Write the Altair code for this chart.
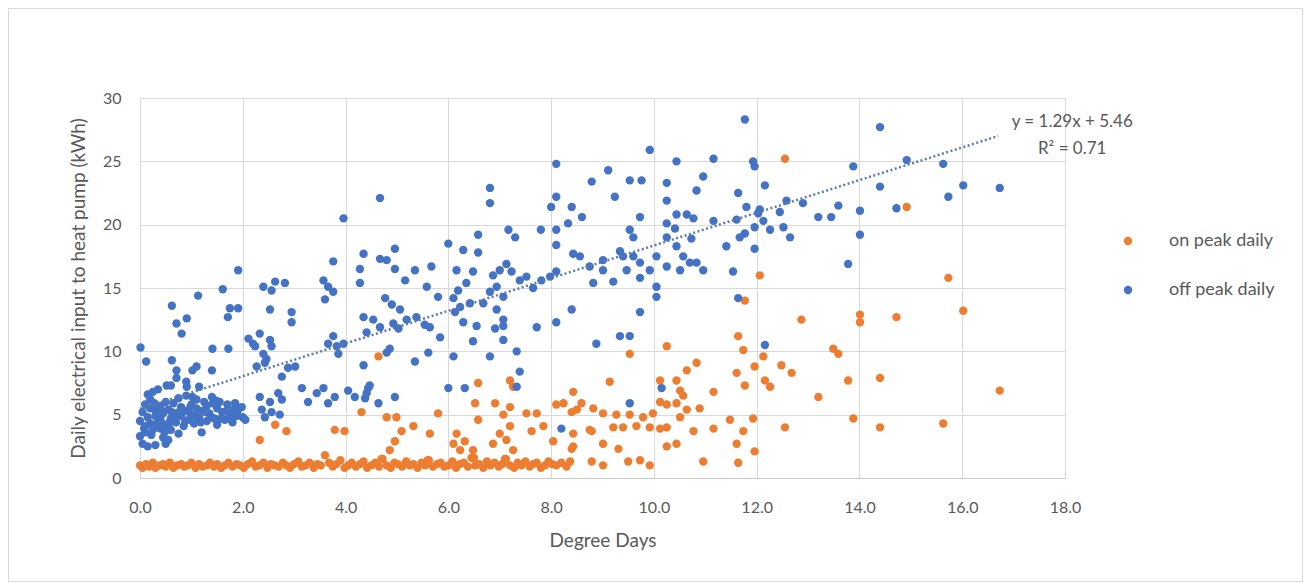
import altair as alt
import pandas as pd

# ---------------- data ----------------
# on peak daily: dense band near 1 kWh
band_x = [0.00, 0.05, 0.12, 0.18, 0.25, 0.30, 0.38, 0.45, 0.50, 0.58,
          0.65, 0.72, 0.80, 0.86, 0.93, 1.00, 1.08, 1.15, 1.22, 1.30,
          1.36, 1.44, 1.50, 1.58, 1.65, 1.72, 1.80, 1.88, 1.95, 2.02,
          2.10, 2.18, 2.25, 2.32, 2.40, 2.48, 2.55, 2.62, 2.70, 2.78,
          2.85, 2.92, 3.00, 3.08, 3.15, 3.22, 3.30, 3.38, 3.45, 3.52,
          3.60, 3.68, 3.75, 3.82, 3.90, 3.98, 4.05, 4.12, 4.20, 4.28,
          4.35, 4.42, 4.50, 4.58, 4.65, 4.72, 4.80, 4.88, 4.95, 5.02,
          5.10, 5.18, 5.25, 5.32, 5.40, 5.48, 5.55, 5.62, 5.70, 5.78,
          5.85, 5.92, 6.00, 6.08, 6.15, 6.22, 6.30, 6.38, 6.45, 6.52,
          6.60, 6.68, 6.75, 6.82, 6.90, 6.98, 7.05, 7.12, 7.20, 7.28,
          7.35, 7.42, 7.50, 7.58, 7.65, 7.72, 7.80, 7.88, 7.95, 8.02,
          8.10, 8.20, 8.30, 6.50, 7.10, 4.70, 5.60]
band_y = [1.0, 0.8, 1.1, 0.9, 1.2, 0.8, 1.0, 1.1, 0.9, 1.2,
          0.8, 1.0, 1.1, 0.9, 1.0, 1.2, 0.8, 1.1, 0.9, 1.0,
          1.2, 0.9, 1.1, 0.8, 1.0, 1.2, 0.9, 1.1, 1.0, 0.8,
          1.1, 1.3, 0.9, 1.0, 1.2, 0.8, 1.1, 1.0, 0.9, 1.2,
          1.0, 0.8, 1.1, 1.3, 0.9, 1.0, 1.2, 0.8, 1.1, 1.0,
          1.8, 1.2, 0.9, 1.1, 1.4, 0.8, 1.0, 1.2, 0.9, 1.1,
          1.3, 0.8, 1.0, 1.2, 0.9, 1.5, 1.0, 0.8, 1.2, 1.1,
          0.9, 1.3, 1.0, 1.1, 0.8, 1.2, 1.0, 1.4, 0.9, 1.1,
          1.2, 0.9, 1.0, 1.3, 0.8, 1.1, 1.2, 0.9, 1.6, 1.0,
          1.1, 0.8, 1.3, 1.0, 1.2, 0.9, 1.1, 1.5, 1.0, 0.8,
          1.2, 1.0, 1.3, 0.9, 1.1, 1.2, 0.8, 1.0, 1.3, 1.1,
          1.0, 1.2, 0.9, 1.6, 1.5, 1.5, 1.4]

# on peak daily: scattered points
on_x = [2.33, 2.63, 2.85, 3.79, 3.98, 4.31,
        4.64, 6.58, 7.20, 7.26, 8.43, 8.59, 8.24, 8.75, 8.82,
        6.52, 6.91, 7.20, 5.80, 6.58, 7.07, 7.52, 7.72, 8.10, 8.40,
        7.85, 7.62, 7.20, 7.00, 8.04, 8.40, 6.16, 6.32, 6.10, 6.23,
        6.48, 6.87, 7.13, 7.26, 5.64, 5.32, 5.09, 4.96, 4.86, 4.80, 4.99,
        8.50, 9.01, 9.27, 9.53, 9.79, 9.98, 10.25, 10.44, 10.64, 10.89,
        10.51, 9.21, 9.40, 9.66, 9.92, 10.12, 10.25, 8.43, 8.79, 9.01,
        9.31, 8.43, 8.37, 8.79, 9.01, 9.50, 9.73, 9.92, 10.25, 10.44,
        10.77, 11.16, 11.48, 11.93, 11.74, 11.61, 11.96, 10.96, 11.64, 12.55,
        10.25, 9.53, 9.14, 10.83, 10.64, 10.44, 10.51, 10.57, 10.12, 11.16,
        10.12, 12.06, 11.77, 12.87, 11.64, 11.74, 11.96, 11.61, 11.77, 12.13,
        12.16, 12.26, 12.48, 12.68, 13.20, 12.55,
        14.92, 15.73, 16.02, 14.01, 14.01, 14.72, 13.49, 13.59, 13.78, 14.40,
        16.73, 13.88, 14.40, 15.63]
on_y = [3.0, 4.2, 3.7, 3.8, 3.7, 5.2,
        9.6, 7.5, 7.7, 7.2, 6.8, 5.9, 5.9, 3.8, 5.5,
        5.9, 5.9, 5.6, 5.1, 4.6, 5.0, 5.1, 5.1, 5.8, 5.2,
        4.1, 3.7, 4.1, 3.5, 2.9, 2.3, 3.5, 2.9, 2.7, 2.2,
        2.2, 2.7, 3.0, 2.2, 3.5, 4.1, 3.7, 2.9, 2.2, 4.8, 4.8,
        5.4, 5.1, 5.0, 5.0, 4.8, 5.1, 5.8, 5.9, 5.4, 5.5,
        4.8, 4.0, 4.0, 4.1, 4.0, 3.9, 4.0, 3.5, 3.7, 2.7,
        2.3, 2.5, 1.3, 1.3, 1.0, 1.3, 1.4, 1.0, 2.5, 2.7,
        3.7, 3.9, 4.6, 4.7, 3.7, 2.7, 2.1, 1.3, 1.2, 4.0,
        10.4, 9.8, 7.6, 9.1, 8.5, 7.7, 6.9, 6.5, 7.7, 6.8,
        6.0, 16.0, 14.0, 12.5, 11.2, 10.1, 8.8, 8.3, 7.3, 9.6,
        7.7, 7.2, 8.9, 8.3, 6.4, 25.2,
        21.4, 15.8, 13.2, 12.9, 12.3, 12.7, 10.2, 9.8, 7.7, 7.9,
        6.9, 4.7, 4.0, 4.3]

# off peak daily: dense cluster at low degree days
cluster_x = [0.00, 0.00, 0.05, 0.05, 0.10, 0.10, 0.10, 0.15, 0.15, 0.20,
             0.20, 0.20, 0.25, 0.30, 0.30, 0.30, 0.35, 0.40, 0.40, 0.40,
             0.45, 0.50, 0.50, 0.50, 0.55, 0.60, 0.60, 0.65, 0.70, 0.70,
             0.75, 0.80, 0.80, 0.85, 0.90, 0.90, 0.95, 1.00, 1.00, 1.05,
             1.10, 1.10, 1.15, 1.20, 1.20, 1.25, 1.30, 1.30, 1.35, 1.40,
             1.45, 1.50, 1.50, 1.55, 1.60, 1.65, 1.70, 1.75, 1.80, 1.85,
             1.90, 2.00, 2.05, 0.15, 0.35, 0.60, 0.25, 0.45, 0.75, 1.15,
             0.55, 0.90, 0.52, 0.91,
             0.08, 0.22, 0.33, 0.42, 0.48, 0.58, 0.68, 0.78, 0.88, 0.98,
             1.08, 1.18, 1.28, 1.38, 1.48, 1.58, 1.68, 1.78, 1.88, 1.98,
             0.28, 0.62, 1.02, 1.42, 1.82]
cluster_y = [4.5, 3.3, 5.2, 2.7, 4.1, 5.8, 3.6, 4.8, 2.5, 4.3,
             5.5, 6.2, 3.8, 4.9, 5.3, 2.6, 4.4, 5.7, 3.9, 4.6,
             5.1, 4.2, 6.0, 2.7, 5.4, 4.7, 3.8, 5.9, 4.4, 5.1,
             6.3, 4.9, 5.6, 4.1, 5.3, 6.5, 4.6, 5.0, 5.8, 4.3,
             5.5, 6.2, 4.8, 5.3, 3.6, 6.0, 4.5, 5.7, 5.1, 6.4,
             4.7, 5.5, 4.2, 6.0, 5.2, 4.6, 5.8, 5.0, 4.4, 5.9,
             5.3, 4.8, 4.6, 6.6, 7.0, 7.3, 6.8, 3.2, 3.5, 7.2,
             3.0, 7.6, 7.3, 7.2,
             3.9, 3.4, 4.0, 5.3, 3.6, 4.4, 4.9, 5.3, 4.5, 5.6,
             4.9, 4.4, 5.2, 4.8, 6.1, 4.7, 5.3, 4.6, 4.9, 5.6,
             5.9, 5.2, 6.4, 5.9, 5.4]

# off peak daily: remaining points
off_x = [3.96, 1.91, 1.13, 0.62, 1.61, 1.75, 1.91, 1.71, 0.91, 0.71,
         0.81, 0.01, 0.12, 1.41, 1.72, 0.62, 0.71, 0.71, 1.02, 1.10,
         1.40, 2.11, 2.33, 2.53, 2.24, 2.40, 2.56, 2.46, 2.27, 2.20,
         2.40, 2.63, 2.82, 2.56, 2.53, 2.95, 2.95, 3.57, 3.66, 3.76,
         3.60, 3.76, 4.35, 4.28, 4.28, 4.35, 4.41, 3.66, 3.83, 3.96,
         3.76, 3.86, 4.35,
         2.43, 2.76, 2.88, 3.02, 3.15, 3.44, 3.57, 3.79, 3.27, 3.66,
         4.05, 4.18, 4.44, 4.38, 4.64, 2.33, 2.53, 2.69, 2.76, 2.37,
         2.56, 2.72, 2.43,
         8.10, 8.79, 6.81, 6.81, 4.67, 8.10, 8.00, 8.40, 8.60, 8.33,
         7.80, 8.10, 8.10, 7.17, 7.30, 6.58, 6.00, 6.29, 6.58, 8.43,
         8.56, 4.67, 4.80, 4.96, 4.96, 5.35, 5.67, 5.16, 6.16, 6.48,
         6.35, 6.19, 6.10, 6.23, 6.13, 6.42, 6.87, 7.00, 7.13, 7.23,
         6.94, 6.81, 7.07, 7.39, 7.52, 7.65, 7.81, 7.98, 8.10, 8.82,
         5.58, 5.80, 4.77, 4.90, 5.06, 5.19, 5.38, 5.54, 5.64, 4.54,
         4.67, 5.03, 4.93, 6.68, 6.94, 7.07, 6.55, 6.91, 7.07, 6.29,
         5.84, 6.48, 7.07, 7.33, 6.81, 6.10, 5.61, 5.35, 4.86, 4.80,
         7.72, 8.10, 8.40, 8.88, 7.39, 7.33, 6.00, 6.32, 4.47, 4.41,
         4.96, 8.20,
         11.77, 9.92, 10.44, 11.16, 11.93, 11.96, 9.11, 9.53, 9.76, 10.25,
         10.96, 10.83, 12.16, 9.24, 10.25, 11.64, 11.80, 12.06, 12.58, 12.90,
         13.20, 13.45, 9.73, 10.25, 10.44, 10.64, 10.77, 10.41, 10.25, 11.16,
         11.61, 11.67, 11.77, 11.96, 12.13, 12.26, 12.45, 12.52, 12.65, 12.03,
         9.53, 9.60, 8.75, 9.01, 9.01, 9.21, 9.34, 9.40, 9.60, 9.73,
         9.47, 9.73, 9.92, 10.05, 10.25, 10.44, 10.57, 10.51, 10.70, 10.83,
         10.96, 10.73, 10.05, 10.05, 9.73, 11.41, 11.96, 11.54, 11.64, 9.34,
         9.53, 12.16, 10.15, 9.53,
         14.40, 13.88, 14.92, 15.63, 14.40, 16.02, 16.73, 15.73, 13.59, 14.01,
         14.72, 14.01, 13.78]
off_y = [20.5, 16.4, 14.4, 13.6, 14.9, 13.4, 13.4, 12.7, 12.6, 12.2,
         11.4, 10.3, 9.2, 10.2, 10.2, 9.3, 8.5, 7.9, 8.5, 8.8,
         8.5, 11.0, 11.4, 10.9, 10.4, 9.8, 10.4, 9.4, 8.8, 10.6,
         15.1, 15.5, 15.4, 14.8, 13.3, 13.1, 12.3, 15.6, 15.1, 14.7,
         14.1, 17.1, 17.7, 16.5, 15.4, 12.7, 11.5, 10.6, 10.4, 10.6,
         11.2, 9.8, 8.9,
         9.1, 8.0, 8.7, 8.8, 7.1, 6.7, 7.1, 6.4, 6.0, 5.9,
         6.9, 6.4, 7.1, 6.3, 5.9, 6.4, 6.0, 6.7, 6.2, 5.4,
         5.2, 5.0, 4.8,
         24.8, 23.4, 22.9, 21.7, 22.1, 22.2, 21.4, 21.4, 20.6, 20.1,
         19.6, 19.6, 18.4, 19.6, 19.0, 19.2, 18.5, 18.0, 17.8, 17.7,
         17.5, 17.3, 17.2, 18.1, 16.5, 16.4, 16.7, 15.6, 16.4, 16.3,
         15.4, 14.8, 14.2, 13.5, 13.1, 13.8, 16.0, 16.4, 16.9, 16.3,
         15.1, 14.7, 14.3, 15.6, 15.9, 15.0, 15.6, 15.9, 16.3, 15.4,
         15.1, 14.3, 14.2, 13.7, 13.3, 12.5, 12.7, 12.1, 11.9, 12.5,
         11.9, 11.8, 12.2, 13.8, 13.3, 12.5, 12.0, 11.8, 12.0, 12.3,
         11.1, 10.8, 10.9, 10.0, 9.6, 9.6, 9.9, 9.2, 10.2, 9.9,
         11.9, 12.3, 13.3, 10.6, 8.4, 7.2, 7.1, 7.1, 7.3, 6.7,
         6.4, 3.9,
         28.3, 25.9, 25.0, 25.2, 25.0, 24.6, 24.3, 23.5, 23.5, 23.3,
         23.8, 22.7, 23.1, 22.2, 21.9, 22.5, 21.4, 21.2, 21.9, 21.7,
         20.6, 20.6, 20.6, 20.1, 20.8, 20.8, 20.5, 19.7, 19.0, 20.3,
         20.4, 19.0, 19.3, 19.8, 20.3, 19.6, 21.0, 19.8, 19.0, 20.9,
         19.6, 19.0, 16.7, 17.2, 16.4, 15.5, 17.9, 17.5, 17.5, 17.0,
         16.4, 15.8, 16.4, 17.5, 16.7, 18.3, 17.5, 16.4, 17.0, 17.0,
         16.4, 18.9, 15.1, 14.3, 13.1, 18.3, 18.1, 16.3, 14.2, 11.2,
         11.2, 10.5, 7.1, 5.9,
         27.7, 24.6, 25.1, 24.8, 23.0, 23.1, 22.9, 22.2, 21.5, 21.1,
         21.3, 19.2, 16.9]

series_names = ["on peak daily", "off peak daily"]
series_colors = ["#ED7D31", "#4472C4"]

# linear trendline of off peak daily (as labelled: y = 1.29x + 5.46)
trend_x = [0.0, 16.7]
trend_y = [5.46, 27.0]
trend_labels = ["y = 1.29x + 5.46", "R\u00b2 = 0.71"]
trend_label_x = [18.14, 18.14]
trend_label_y = [28.1, 26.0]

x_ticks = [0, 2, 4, 6, 8, 10, 12, 14, 16, 18]
y_ticks = [0, 5, 10, 15, 20, 25, 30]

# ---------------- tables ----------------
points = pd.concat([
    pd.DataFrame({"dd": band_x + on_x, "kwh": band_y + on_y, "series": series_names[0]}),
    pd.DataFrame({"dd": cluster_x + off_x, "kwh": cluster_y + off_y, "series": series_names[1]}),
], ignore_index=True)
points["order"] = range(len(points))
trend = pd.DataFrame({"dd": trend_x, "kwh": trend_y})
labels = pd.DataFrame({"dd": trend_label_x, "kwh": trend_label_y, "txt": trend_labels})

FONT = "Lato"
GREY = "#595959"

xscale = alt.Scale(domain=[0, 18], nice=False, zero=False, padding=0)
yscale = alt.Scale(domain=[0, 30], nice=False, padding=0)

xaxis = alt.Axis(values=x_ticks, format=".1f", title="Degree Days", grid=True,
                 gridColor="#d9d9d9", domain=True, domainColor="#c8c8c8", ticks=False,
                 labelFlush=False, labelOverlap=False,
                 labelPadding=21, labelFontSize=16, labelColor=GREY, labelFont=FONT,
                 titleFont=FONT, titleFontSize=19, titleColor=GREY, titleFontWeight="normal",
                 titlePadding=16)
yaxis = alt.Axis(values=y_ticks, format="d", title="Daily electrical input to heat pump (kWh)",
                 grid=True, gridColor="#d9d9d9", domain=False, ticks=False,
                 labelFlush=False, labelOverlap=False,
                 labelPadding=19, labelFontSize=16, labelColor=GREY, labelFont=FONT,
                 titleFont=FONT, titleFontSize=19, titleColor=GREY, titleFontWeight="normal",
                 titlePadding=14)

scatter = alt.Chart(points).mark_circle(size=70, opacity=1).encode(
    x=alt.X("dd:Q", scale=xscale, axis=xaxis),
    y=alt.Y("kwh:Q", scale=yscale, axis=yaxis),
    color=alt.Color("series:N",
                    scale=alt.Scale(domain=series_names, range=series_colors),
                    legend=alt.Legend(title=None, orient="none", legendX=979, legendY=134,
                                      symbolType="circle", symbolSize=70, rowPadding=31,
                                      labelFontSize=18, labelColor=GREY, labelFont=FONT,
                                      labelOffset=32)),
    order=alt.Order("order:Q"),
)

trendline = alt.Chart(trend).mark_line(strokeDash=[2, 2.5], strokeWidth=2.5, color="#5b7bab").encode(
    x=alt.X("dd:Q", scale=xscale),
    y=alt.Y("kwh:Q", scale=yscale),
)

trendtext = alt.Chart(labels).mark_text(fontSize=17, color=GREY, font=FONT, align="center",
                                        baseline="middle").encode(
    x=alt.X("dd:Q", scale=xscale),
    y=alt.Y("kwh:Q", scale=yscale),
    text="txt:N",
)

frame = alt.Chart(trend).mark_rect(filled=False, stroke="#d9d9d9", strokeWidth=1).encode(
    x=alt.value(-131.5), x2=alt.value(1162.5), y=alt.value(-89.5), y2=alt.value(483.5),
)

chart = alt.layer(frame, scatter, trendline, trendtext).properties(
    width=925, height=380,
    padding={"left": 132, "top": 90, "right": 238, "bottom": 104},
    autosize=alt.AutoSizeParams(type="none"),
).configure_view(stroke=None).configure(background="white")

chart.save("out.html", embed_options={"renderer": "svg", "actions": False})
